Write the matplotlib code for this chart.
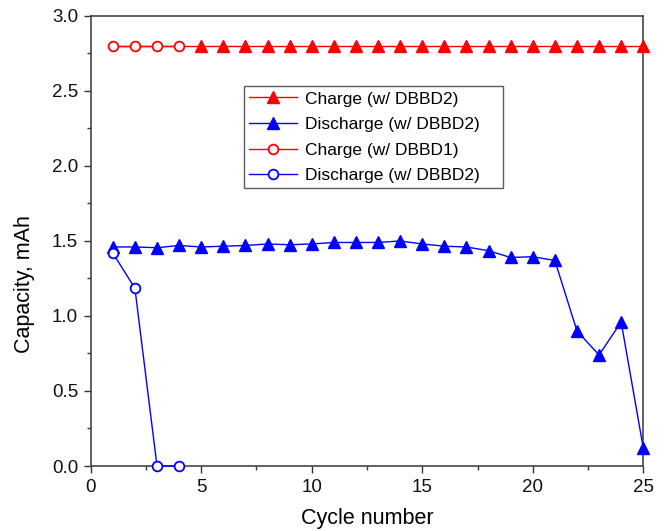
import matplotlib
matplotlib.use("Agg")
import matplotlib.pyplot as plt
from matplotlib.ticker import MultipleLocator, FormatStrFormatter
from matplotlib.lines import Line2D

plt.rcParams['font.family'] = ['Liberation Sans', 'DejaVu Sans']

cycles_dbbd2 = list(range(1, 26))
charge_dbbd2 = [2.80] * 25
discharge_dbbd2 = [1.46, 1.46, 1.455, 1.47, 1.46, 1.465, 1.47, 1.48, 1.475, 1.48,
                   1.49, 1.49, 1.49, 1.50, 1.48, 1.465, 1.46, 1.435, 1.39, 1.395,
                   1.37, 0.90, 0.74, 0.96, 0.12]
cycles_dbbd1 = [1, 2, 3, 4]
charge_dbbd1 = [2.80, 2.80, 2.80, 2.80]
discharge_dbbd1 = [1.42, 1.185, 0.0, 0.0]

labels = ["Charge (w/ DBBD2)", "Discharge (w/ DBBD2)", "Charge (w/ DBBD1)", "Discharge (w/ DBBD2)"]

fig = plt.figure(figsize=(6.64, 5.31), dpi=100)
ax = fig.add_axes([0.1366, 0.1224, 0.8322, 0.8476])

red = '#ff0000'
blue = '#0000ff'
ax.plot(cycles_dbbd2, charge_dbbd2, color=red, lw=1.0, marker='^', ms=8,
        mfc=red, mec=red, markevery=list(range(4, 25)), clip_on=False, zorder=3)
ax.plot(cycles_dbbd2, discharge_dbbd2, color=blue, lw=1.0, marker='^', ms=8,
        mfc=blue, mec=blue, clip_on=False, zorder=3)
ax.plot(cycles_dbbd1, charge_dbbd1, color=red, lw=1.0, marker='o', ms=7,
        mfc='white', mec=red, mew=1.3, clip_on=False, zorder=4)
ax.plot(cycles_dbbd1, discharge_dbbd1, color=blue, lw=1.0, marker='o', ms=7,
        mfc='white', mec=blue, mew=1.3, clip_on=False, zorder=4)

h1 = Line2D([], [], color=red, lw=1.0, marker='^', ms=8, mfc=red, mec=red)
h2 = Line2D([], [], color=blue, lw=1.0, marker='^', ms=8, mfc=blue, mec=blue)
h3 = Line2D([], [], color=red, lw=1.0, marker='o', ms=7, mfc='white', mec=red, mew=1.3)
h4 = Line2D([], [], color=blue, lw=1.0, marker='o', ms=7, mfc='white', mec=blue, mew=1.3)
leg = ax.legend([h1, h2, h3, h4], labels, loc='upper left',
                bbox_to_anchor=(0.2774, 0.5, 0.4687, 0.344), mode='expand',
                fontsize=12.5, frameon=True, fancybox=False, edgecolor='#333333',
                handlelength=2.75, handletextpad=0.45, borderpad=0.3, labelspacing=0.6,
                borderaxespad=0)
leg.get_frame().set_linewidth(1.0)

ax.set_xlim(0, 25)
ax.set_ylim(0, 3.0)
ax.xaxis.set_major_locator(MultipleLocator(5))
ax.xaxis.set_minor_locator(MultipleLocator(2.5))
ax.yaxis.set_major_locator(MultipleLocator(0.5))
ax.yaxis.set_minor_locator(MultipleLocator(0.25))
ax.yaxis.set_major_formatter(FormatStrFormatter('%.1f'))
ax.tick_params(which='both', direction='out', top=False, right=False, colors='#333333',
               labelcolor='#111111', labelsize=13.5, width=1.0)
ax.tick_params(which='major', length=5, pad=4)
ax.tick_params(which='minor', length=3)
for s in ax.spines.values():
    s.set_color('#444444')
    s.set_linewidth(1.2)

ax.set_xlabel('Cycle number', fontsize=15.5, labelpad=9)
ax.set_ylabel('Capacity, mAh', fontsize=15.5)
ax.yaxis.set_label_coords(-0.101, 0.405)

fig.savefig('out.png', dpi=100)
